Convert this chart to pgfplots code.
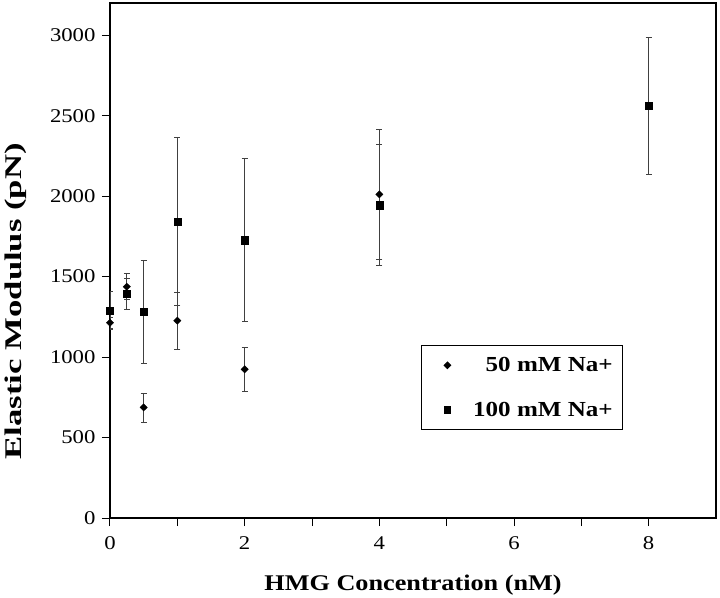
\documentclass[border=0pt]{standalone}
\usepackage{pgfplots}
\pgfplotsset{compat=1.18}
\usepackage{fontspec}
\setmainfont{Liberation Serif}[FakeStretch=1.17]
\begin{document}
\begin{tikzpicture}
\begin{axis}[
  name=ax,
  scale only axis,
  width=606bp, height=515bp,
  xmin=0, xmax=9, ymin=0, ymax=3200,
  xtick={0,2,4,6,8},
  minor xtick={1,3,5,7},
  ytick={0,500,1000,1500,2000,2500,3000},
  tick align=outside,
  major tick length=8bp, minor tick length=8bp,
  tick style={black, line width=1bp},
  xtick pos=bottom, ytick pos=left,
  axis line style={line width=1.2bp},
  /pgf/number format/assume math mode=true,
  /pgf/number format/1000 sep={},
  tick label style={font=\fontsize{19.5}{23}\selectfont},
  xticklabel style={yshift=-7bp},
  yticklabel style={xshift=-3bp},
  xlabel={\textbf{HMG Concentration (nM)}},
  ylabel={\scalebox{1.24}[1]{\textbf{Elastic Modulus (pN)}}},
  label style={font=\fontsize{22.5}{26}\selectfont},
  xlabel style={yshift=-18bp},
  ylabel style={at={(axis description cs:-0.155,0.421)}, anchor=center, font=\fontsize{24}{28}\selectfont},
  legend style={at={(0.513,0.336)}, anchor=north west, draw=black, line width=1bp,
    font=\bfseries\fontsize{21.5}{25}\selectfont, inner xsep=8bp, inner ysep=10bp,
    row sep=25bp, /tikz/every odd column/.append style={column sep=9bp}},
  legend cell align=right,
  legend image code/.code={\path (-11bp,0);
    \draw[mark repeat=2,mark phase=2,#1] plot coordinates {(0cm,0cm) (0.3cm,0cm) (0.6cm,0cm)};},
  legend image post style={scale=0.9},
]
\addplot+[only marks, black, mark=diamond*, mark size=3.6bp, mark options={fill=black, xscale=1.35},
  error bars/.cd, y dir=both, y explicit,
  error bar style={line width=0.8bp, black!75},
  error mark options={rotate=90, xscale=1, mark size=3bp, line width=0.8bp, black!75}]
  coordinates {
  (0,1213) +- (0,35)
  (0.25,1437) +- (0,80)
  (0.5,687) +- (0,90)
  (1,1226) +- (0,178)
  (2,924) +- (0,135)
  (4,2011) +- (0,405)
  };
\addlegendentry{\makebox[151bp][r]{50 mM Na+}}
\addplot+[only marks, black, mark=square*, mark size=3.6bp, mark options={fill=black},
  error bars/.cd, y dir=both, y explicit,
  error bar style={line width=0.8bp, black!75},
  error mark options={rotate=90, mark size=3bp, line width=0.8bp, black!75}]
  coordinates {
  (0,1290) +- (0,118)
  (0.25,1393) +- (0,95)
  (0.5,1281) +- (0,318)
  (1,1842) +- (0,522)
  (2,1726) +- (0,506)
  (4,1944) +- (0,375)
  (8,2561) +- (0,428)
  };
\addlegendentry{\makebox[151bp][r]{100 mM Na+}}
\end{axis}
\pgfresetboundingbox
\path ([shift={(-110bp,-80bp)}]ax.south west) rectangle ([shift={(4bp,3bp)}]ax.north east);
\end{tikzpicture}
\end{document}
